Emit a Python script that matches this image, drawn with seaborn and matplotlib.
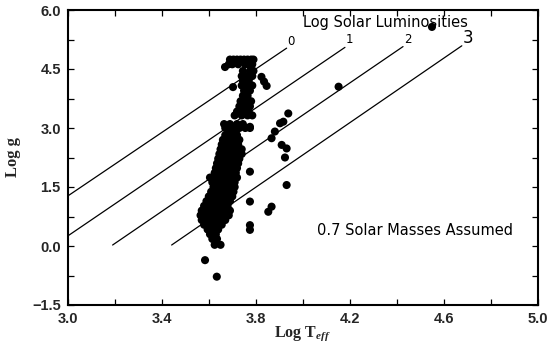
import matplotlib
matplotlib.use("Agg")
import matplotlib.pyplot as plt
import seaborn as sns
import pandas as pd
from matplotlib.ticker import MultipleLocator

# ---------------- data ----------------
# upper part of the giant branch (log g 2.9 .. 4.75)
upper_teff = [3.69, 3.705, 3.72, 3.735, 3.75, 3.765, 3.78, 3.79,
              3.685, 3.70, 3.725, 3.755, 3.77, 3.785, 3.669,
              3.745, 3.775, 3.79, 3.74, 3.76, 3.785, 3.745, 3.77,
              3.74, 3.765, 3.785, 3.703, 3.75, 3.775, 3.745, 3.765,
              3.735, 3.76, 3.78, 3.73, 3.75, 3.775, 3.72, 3.745, 3.77,
              3.71, 3.74, 3.765, 3.785,
              3.665, 3.69, 3.72, 3.745, 3.67, 3.70, 3.73, 3.755, 3.775,
              3.685, 3.715]
upper_logg = [4.74, 4.74, 4.74, 4.74, 4.74, 4.74, 4.74, 4.74,
              4.62, 4.62, 4.62, 4.62, 4.62, 4.62, 4.55,
              4.45, 4.45, 4.45, 4.32, 4.32, 4.32, 4.20, 4.20,
              4.08, 4.08, 4.08, 4.04, 3.95, 3.95, 3.82, 3.82,
              3.68, 3.68, 3.68, 3.55, 3.55, 3.55, 3.42, 3.42, 3.42,
              3.32, 3.32, 3.32, 3.32,
              3.10, 3.10, 3.10, 3.10, 3.00, 3.00, 3.00, 3.00, 3.00,
              2.92, 2.92]

# dense lower band (log g 0 .. 2.85)
band_teff = [3.67, 3.695, 3.72,
             3.66, 3.685, 3.71, 3.73,
             3.655, 3.68, 3.705, 3.725,
             3.65, 3.675, 3.70, 3.725, 3.74,
             3.645, 3.67, 3.695, 3.72, 3.74,
             3.64, 3.665, 3.69, 3.715, 3.73,
             3.635, 3.66, 3.685, 3.71, 3.725,
             3.63, 3.655, 3.68, 3.705, 3.72,
             3.625, 3.65, 3.675, 3.70, 3.715,
             3.605, 3.63, 3.655, 3.68, 3.705, 3.72,
             3.615, 3.64, 3.665, 3.69, 3.71,
             3.62, 3.645, 3.67, 3.695, 3.71,
             3.61, 3.635, 3.66, 3.685, 3.705,
             3.60, 3.625, 3.65, 3.675, 3.70,
             3.59, 3.615, 3.64, 3.665, 3.69,
             3.58, 3.605, 3.63, 3.655, 3.68,
             3.57, 3.595, 3.62, 3.645, 3.67, 3.69,
             3.565, 3.59, 3.615, 3.64, 3.665, 3.685,
             3.57, 3.595, 3.62, 3.645, 3.67,
             3.58, 3.605, 3.63, 3.655,
             3.595, 3.615, 3.64,
             3.605, 3.63,
             3.615, 3.635,
             3.625, 3.65]
band_logg = [2.82, 2.82, 2.82,
             2.70, 2.70, 2.70, 2.70,
             2.58, 2.58, 2.58, 2.58,
             2.46, 2.46, 2.46, 2.46, 2.46,
             2.34, 2.34, 2.34, 2.34, 2.34,
             2.22, 2.22, 2.22, 2.22, 2.22,
             2.10, 2.10, 2.10, 2.10, 2.10,
             1.98, 1.98, 1.98, 1.98, 1.98,
             1.86, 1.86, 1.86, 1.86, 1.86,
             1.74, 1.74, 1.74, 1.74, 1.74, 1.74,
             1.62, 1.62, 1.62, 1.62, 1.62,
             1.50, 1.50, 1.50, 1.50, 1.50,
             1.38, 1.38, 1.38, 1.38, 1.38,
             1.26, 1.26, 1.26, 1.26, 1.26,
             1.14, 1.14, 1.14, 1.14, 1.14,
             1.02, 1.02, 1.02, 1.02, 1.02,
             0.90, 0.90, 0.90, 0.90, 0.90, 0.90,
             0.78, 0.78, 0.78, 0.78, 0.78, 0.78,
             0.66, 0.66, 0.66, 0.66, 0.66,
             0.54, 0.54, 0.54, 0.54,
             0.42, 0.42, 0.42,
             0.30, 0.30,
             0.18, 0.18,
             0.03, 0.03]

# scattered stars
outlier_teff = [3.775, 3.775, 3.775, 3.775, 3.775, 3.733, 3.584, 3.634,
                3.867, 3.853, 3.938, 3.917, 3.903, 3.881, 3.867, 3.91,
                3.931, 3.924, 3.931, 3.824, 3.835, 3.846, 4.152, 4.549]
outlier_logg = [3.03, 1.89, 1.13, 0.53, 0.41, 2.40, -0.36, -0.78,
                1.00, 0.87, 3.37, 3.16, 3.12, 2.91, 2.74, 2.57,
                2.48, 2.25, 1.55, 4.30, 4.18, 4.07, 4.05, 5.57]

# constant-luminosity lines (log L/Lsun) for 0.7 Msun
lum_labels = ["0", "1", "2", "3"]
line_teff_start = [3.0, 3.0, 3.191, 3.442]
line_logg_start = [1.27, 0.254, 0.025, 0.025]
line_teff_end = [3.931, 4.179, 4.426, 4.676]
line_logg_end = [5.03, 5.05, 5.07, 5.09]
label_teff = [3.95, 4.196, 4.447, 4.702]
label_logg = [5.21, 5.24, 5.24, 5.29]

xticks = [3.0, 3.4, 3.8, 4.2, 4.6, 5.0]
yticks = [-1.5, 0.0, 1.5, 3.0, 4.5, 6.0]

# ---------------- plot ----------------
sns.set_style("ticks")
plt.rcParams["font.family"] = ["DejaVu Sans"]
plt.rcParams["font.weight"] = "bold"
plt.rcParams["mathtext.fontset"] = "custom"
plt.rcParams["mathtext.it"] = "Liberation Serif:italic:bold"
plt.rcParams["mathtext.rm"] = "Liberation Serif:bold"

fig = plt.figure(figsize=(5.5, 3.44), dpi=100)
ax = fig.add_axes([67.7 / 550, 39 / 344, (538 - 67.7) / 550, 295 / 344])

stars = pd.DataFrame({
    "teff": upper_teff + band_teff + outlier_teff,
    "logg": upper_logg + band_logg + outlier_logg,
})
sns.scatterplot(data=stars, x="teff", y="logg", ax=ax, color="black",
                s=34, linewidth=0, edgecolor="none", zorder=3)

lines = pd.DataFrame({
    "lum": lum_labels * 2,
    "teff": line_teff_start + line_teff_end,
    "logg": line_logg_start + line_logg_end,
})
sns.lineplot(data=lines, x="teff", y="logg", units="lum", estimator=None,
             color="black", linewidth=0.9, ax=ax, sort=True, zorder=2)

for lab, tx, ty in zip(lum_labels, label_teff, label_logg):
    ax.text(tx, ty, lab, ha="center", va="center", fontweight="normal",
            fontsize=12 if lab == "3" else 8.5, color="black")

ax.text(4.351, 5.67, "Log Solar Luminosities", ha="center", va="center",
        fontsize=10.5, fontweight="normal", color="black")
ax.text(4.059, 0.39, "0.7 Solar Masses Assumed", ha="left", va="center",
        fontsize=10.5, fontweight="normal", color="black")

ax.set_xlim(3.0, 5.0)
ax.set_ylim(-1.5, 6.0)
ax.set_xticks(xticks)
ax.set_yticks(yticks)
ax.set_xticklabels([f"{v:.1f}" for v in xticks])
ax.set_yticklabels([f"{v:.1f}".replace("-", "\u2212") for v in yticks])
ax.xaxis.set_minor_locator(MultipleLocator(0.2))
ax.yaxis.set_minor_locator(MultipleLocator(0.75))
ax.tick_params(which="both", direction="in", top=True, right=True,
               length=4, width=0.9, color="black")
ax.tick_params(which="major", pad=5, labelsize=10.5,
               labelfontfamily="Liberation Sans")

for sp in ax.spines.values():
    sp.set_visible(True)
    sp.set_linewidth(1.5)
    sp.set_color("black")

ax.set_xlabel(r"Log T$_{\mathit{eff}}$", fontfamily="Liberation Serif",
              fontweight="bold", fontsize=11.5, labelpad=-1)
ax.set_ylabel("Log g", fontfamily="Liberation Serif", fontweight="bold",
              fontsize=12, labelpad=8)

fig.savefig("out.png", dpi=100)
